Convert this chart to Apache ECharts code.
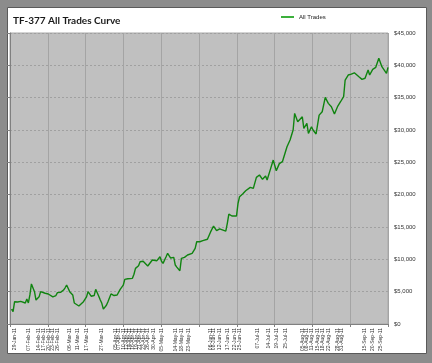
<!DOCTYPE html>
<html>
<head>
<meta charset="utf-8">
<script src="https://cdn.jsdelivr.net/npm/echarts@6/dist/echarts.min.js"></script>
<style>
html,body{margin:0;padding:0;background:#8c8c8c;}
#chart{width:432px;height:363px;}
</style>
</head>
<body>
<div id="chart"></div>
<script>
// ---- data ----
var title = 'TF-377 All Trades Curve';
var seriesName = 'All Trades';
var dates = [
'2011-01-27','2011-01-28','2011-01-29','2011-01-31','2011-02-02','2011-02-05','2011-02-06','2011-02-07','2011-02-08','2011-02-09',
'2011-02-11','2011-02-12','2011-02-14','2011-02-15','2011-02-18','2011-02-20','2011-02-21','2011-02-23','2011-02-25','2011-02-26',
'2011-02-28','2011-03-02','2011-03-03','2011-03-04','2011-03-06','2011-03-08','2011-03-09','2011-03-10','2011-03-12','2011-03-13',
'2011-03-15','2011-03-17','2011-03-18','2011-03-20','2011-03-21','2011-03-22','2011-03-23','2011-03-25','2011-03-26','2011-03-27',
'2011-03-28','2011-03-30','2011-03-31','2011-04-02','2011-04-04','2011-04-06','2011-04-08','2011-04-10','2011-04-11','2011-04-13',
'2011-04-16','2011-04-17','2011-04-18','2011-04-20','2011-04-21','2011-04-23','2011-04-24','2011-04-26','2011-04-29','2011-04-30',
'2011-05-02','2011-05-04','2011-05-05','2011-05-06','2011-05-08','2011-05-09','2011-05-11','2011-05-12','2011-05-13','2011-05-14',
'2011-05-15','2011-05-17','2011-05-18','2011-05-20','2011-05-22','2011-05-23','2011-05-25','2011-05-26','2011-05-27','2011-05-28',
'2011-05-30','2011-06-01','2011-06-04','2011-06-05','2011-06-06','2011-06-08','2011-06-10','2011-06-12','2011-06-13','2011-06-16',
'2011-06-17','2011-06-18','2011-06-20','2011-06-21','2011-06-23','2011-06-24','2011-06-25','2011-06-27','2011-06-29','2011-06-30',
'2011-07-02','2011-07-04','2011-07-06','2011-07-08','2011-07-10','2011-07-12','2011-07-13','2011-07-15','2011-07-17','2011-07-19',
'2011-07-21','2011-07-23','2011-07-24','2011-07-26','2011-07-28','2011-07-30','2011-07-31','2011-08-02','2011-08-03','2011-08-05',
'2011-08-06','2011-08-08','2011-08-09','2011-08-11','2011-08-12','2011-08-14','2011-08-16','2011-08-18','2011-08-20','2011-08-22',
'2011-08-24','2011-08-26','2011-08-28','2011-08-30','2011-09-01','2011-09-02','2011-09-04','2011-09-06','2011-09-08','2011-09-11',
'2011-09-13','2011-09-15','2011-09-17','2011-09-18','2011-09-20','2011-09-22','2011-09-24','2011-09-26','2011-09-27','2011-09-29',
'2011-09-30'
];
var equity = [
2300,1900,3450,3400,3500,3250,3850,3250,4500,6200,
5000,3700,4200,5000,4750,4640,4500,4200,4400,4850,
4900,5250,5600,6030,5000,4500,3250,3300,2780,3000,
3450,4200,5000,4300,4120,4400,5360,4300,3700,3200,
2300,2900,3450,4640,4400,4480,5360,6000,6900,7000,
7060,7700,8600,9000,9630,9700,9480,8970,9900,9700,
9790,10400,9700,9380,10400,10930,10200,9900,10300,9120,
8800,8240,10150,10300,10670,10600,10930,11300,11700,12720,
12720,12900,13100,13400,14200,15150,14430,14700,14800,14350,
15570,17000,16700,16600,16700,18660,19680,20100,20600,20300,
21130,20980,22680,23040,22370,22880,22260,23800,25350,23700,
24800,25100,25300,27400,28450,30000,32570,31280,31540,32050,
30250,31030,29480,30500,30000,29380,32300,32820,35050,34120,
33600,32470,33600,34370,35150,37730,38500,38650,38850,38230,
37830,38000,39270,38500,39380,39690,41080,39790,39890,38760,
39690
];
var xLabelDates = [
'2011-01-29','2011-02-07','2011-02-14','2011-02-17','2011-02-20','2011-02-23','2011-02-26','2011-03-06','2011-03-11','2011-03-17',
'2011-03-27','2011-04-05','2011-04-07','2011-04-10','2011-04-12','2011-04-14','2011-04-16','2011-04-19','2011-04-21','2011-04-23',
'2011-04-26','2011-04-30','2011-05-05','2011-05-14','2011-05-18','2011-05-23','2011-06-06','2011-06-08','2011-06-12','2011-06-17',
'2011-06-22','2011-06-25','2011-07-07','2011-07-14','2011-07-19','2011-07-25','2011-08-05','2011-08-08','2011-08-11','2011-08-15',
'2011-08-18','2011-08-22','2011-08-28','2011-08-31','2011-09-15','2011-09-20','2011-09-25'
];
var xMin = '2011-01-26', xMax = '2011-09-30';
var yMin = 0, yMax = 45000, yStep = 5000;
var monthNames = ['Jan','Feb','Mar','Apr','May','Jun','Jul','Aug','Sep','Oct','Nov','Dec'];

function toTime(s){ var p = s.split('-'); return new Date(+p[0], +p[1]-1, +p[2]).getTime(); }
function fmtDate(v){ var d = new Date(v); var dd = d.getDate(); return (dd<10?'0':'')+dd+'-'+monthNames[d.getMonth()]+'-'+String(d.getFullYear()).slice(2); }

var lineData = dates.map(function(d,i){ return [toTime(d), equity[i]]; });

var chart = echarts.init(document.getElementById('chart'), null, {renderer:'canvas'});
var gridLeft = 10, gridTop = 33, gridRight = 44, gridBottom = 39;
chart.setOption({
  backgroundColor: '#8c8c8c',
  animation: false,
  graphic: [
    {type:'rect', z:-10, shape:{x:7.5,y:7.5,width:419,height:346}, style:{fill:'#ffffff', stroke:'#5a5a5a', lineWidth:1}}
  ],
  title: {
    text: title, left: 8, top: 11,
    textStyle: {fontFamily:'Lato', fontWeight:'bold', fontSize:10, color:'#1a1a1a'}
  },
  legend: {
    data: [seriesName], left: 276, top: 9,
    icon: 'rect', itemWidth: 13, itemHeight: 2, itemGap: 3,
    textStyle: {fontFamily:'Liberation Sans', fontSize: 6, color:'#222'}
  },
  grid: {
    left: gridLeft, top: gridTop, right: gridRight, bottom: gridBottom,
    show: true, backgroundColor: '#c0c0c0', borderColor: '#a8a8a8', borderWidth: 1
  },
  xAxis: [
    {
      type: 'value', min: toTime(xMin), max: toTime(xMax), position: 'bottom',
      axisLine: {show:false}, axisTick: {show:false}, splitLine: {show:false},
      axisLabel: {
        customValues: xLabelDates.map(toTime), rotate: 90, fontSize: 5, margin: 4,
        fontFamily: 'Liberation Sans', color: '#333', hideOverlap: false,
        formatter: function(v){ return fmtDate(v); }
      }
    },
    {
      type: 'value', min: 0, max: 10, interval: 1, position: 'bottom',
      axisLine: {show:true, lineStyle:{color:'#808080', width:1}},
      axisTick: {show:true, length:3, lineStyle:{color:'#808080'}},
      axisLabel: {show:false},
      splitLine: {show:true, lineStyle:{color:'#a4a4a4', width:1, type:'solid'}}
    }
  ],
  yAxis: [
    {
      type: 'value', min: yMin, max: yMax, interval: yStep, position: 'right',
      axisLine: {show:false}, axisTick: {show:false},
      axisLabel: {fontSize: 6, fontFamily:'Liberation Sans', color:'#333', margin: 6,
        formatter: function(v){ return '$' + v.toLocaleString('en-US'); }},
      splitLine: {show:true, lineStyle:{color:'#a0a0a0', width:1, type:[2,2]}}
    },
    {
      type: 'value', min: yMin, max: yMax, interval: yStep, position: 'left',
      axisLine: {show:true, lineStyle:{color:'#808080', width:1}},
      axisTick: {show:true, length:3, lineStyle:{color:'#808080'}},
      axisLabel: {show:false}, splitLine: {show:false}
    }
  ],
  series: [
    {
      name: seriesName, type: 'line', xAxisIndex: 0, yAxisIndex: 0,
      data: lineData, showSymbol: false, symbol: 'none',
      lineStyle: {color:'#108410', width:1.4}, itemStyle: {color:'#3cb03c'}
    }
  ]
});
</script>
</body>
</html>
